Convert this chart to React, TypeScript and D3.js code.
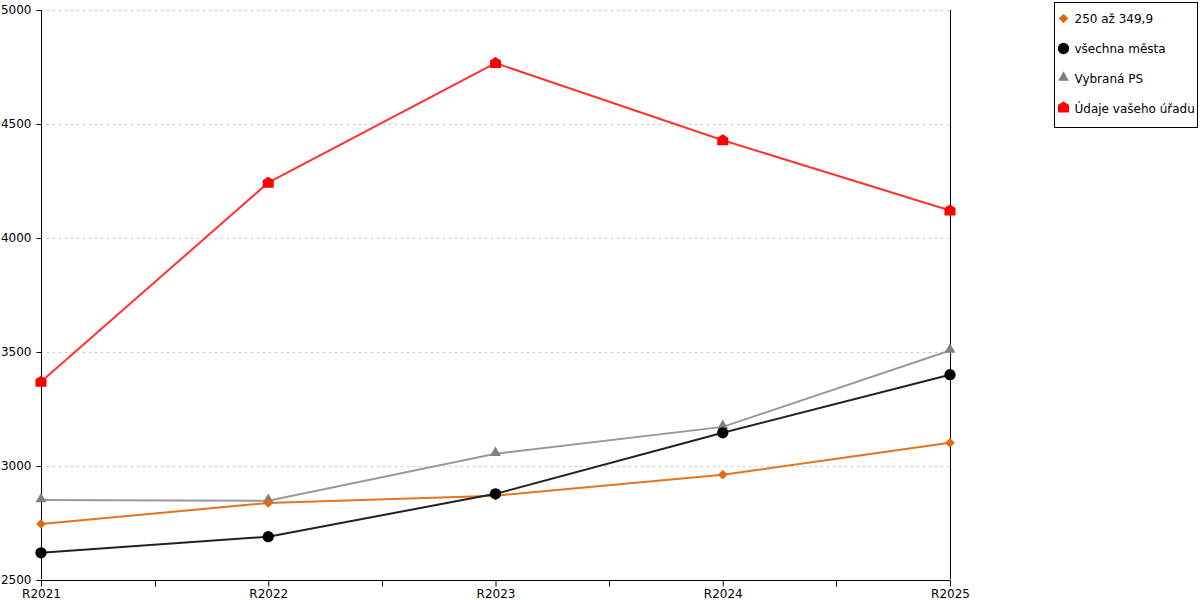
import React, { useRef, useEffect } from "react";
import * as d3 from "d3";

const categories = ["R2021", "R2022", "R2023", "R2024", "R2025"];
const yTicks = [2500, 3000, 3500, 4000, 4500, 5000];

const seriesNames = ["250 až 349,9", "všechna města", "Vybraná PS", "Údaje vašeho úřadu"];
const orangeValues = [2744, 2836, 2868, 2960, 3100];
const blackValues = [2617, 2688, 2876, 3144, 3399];
const grayValues = [2849, 2846, 3052, 3170, 3505];
const redValues = [3368, 4242, 4767, 4428, 4120];

const FONT = "DejaVu Sans, sans-serif";

const App = () => {
  const ref = useRef<SVGSVGElement | null>(null);

  useEffect(() => {
    if (!ref.current) return;
    const svg = d3.select(ref.current);
    svg.selectAll("*").remove();

    const margin = { top: 10, left: 41 };
    const width = 909;
    const height = 569.5;

    const x = d3.scalePoint().domain(categories).range([0, width]);
    const y = d3.scaleLinear().domain([2500, 5000]).range([height, 0]);

    const chart = svg
      .append("g")
      .attr("transform", `translate(${margin.left},${margin.top})`);

    // grid lines
    chart
      .append("g")
      .selectAll("line")
      .data(yTicks.slice(1))
      .enter()
      .append("line")
      .attr("x1", 0)
      .attr("x2", width)
      .attr("y1", (d) => Math.round(y(d)) + 0.5)
      .attr("y2", (d) => Math.round(y(d)) + 0.5)
      .attr("stroke", "#c4c4c4")
      .attr("stroke-dasharray", "2,4");

    // right border line
    chart
      .append("line")
      .attr("x1", width + 0.5)
      .attr("x2", width + 0.5)
      .attr("y1", 0)
      .attr("y2", height)
      .attr("stroke", "#000");

    // Y axis
    chart
      .append("g")
      .attr("transform", "translate(0.5,0)")
      .call(d3.axisLeft(y).tickValues(yTicks).tickSize(5).tickPadding(5).tickFormat((d) => String(d)))
      .call((g) => g.select(".domain").attr("d", `M0,0V${height}`))
      .call((g) => g.selectAll(".tick").attr("transform", (d: any) => `translate(0,${Math.round(y(d)) + 0.5})`))
      .selectAll("text")
      .style("font-size", "12px")
      .style("font-family", FONT)
      .style("fill", "#000");

    // X axis
    const xAxis = chart
      .append("g")
      .attr("transform", `translate(0,${Math.round(height) + 0.5})`);
    xAxis
      .call(d3.axisBottom(x).tickSize(6).tickPadding(3))
      .call((g) => g.select(".domain").attr("d", `M0,0H${width}`))
      .selectAll("text")
      .style("font-size", "12px")
      .style("font-family", FONT)
      .style("fill", "#000");
    // minor ticks between categories
    const step = x.step();
    xAxis
      .selectAll(".minor")
      .data(categories.slice(1))
      .enter()
      .append("line")
      .attr("class", "minor")
      .attr("x1", (d) => Math.round((x(d) || 0) - step / 2) + 0.5)
      .attr("x2", (d) => Math.round((x(d) || 0) - step / 2) + 0.5)
      .attr("y1", 0)
      .attr("y2", 6)
      .attr("stroke", "#000");

    const line = d3
      .line<number>()
      .x((_, i) => x(categories[i]) || 0)
      .y((d) => y(d));

    const diamond = d3.symbol().type(d3.symbolDiamond2).size(60);
    const circle = d3.symbol().type(d3.symbolCircle).size(100);
    const triangle = d3.symbol().type(d3.symbolTriangle2).size(85);
    const house = "M-5.5,-2.5L0,-6L5.5,-2.5L5.5,5L-5.5,5Z";

    const series = [
      { values: grayValues, line: "#999999", marker: "#808080", path: triangle() as string, dy: -1 },
      { values: orangeValues, line: "#e37420", marker: "#e06a10", path: diamond() as string, dy: 0 },
      { values: blackValues, line: "#222222", marker: "#000000", path: circle() as string, dy: 0 },
      { values: redValues, line: "#ff3333", marker: "#ff0000", path: house, dy: 0 },
    ];

    series.forEach((s) => {
      chart
        .append("path")
        .datum(s.values)
        .attr("fill", "none")
        .attr("stroke", s.line)
        .attr("stroke-width", 2)
        .attr("d", line);
    });
    series.forEach((s) => {
      chart
        .append("g")
        .selectAll("path")
        .data(s.values)
        .enter()
        .append("path")
        .attr("d", s.path)
        .attr("fill", s.marker)
        .attr("transform", (d, i) => `translate(${x(categories[i])},${y(d) + s.dy})`);
    });

    // legend
    const legend = svg.append("g").attr("transform", "translate(1054.5,2.5)");
    legend
      .append("rect")
      .attr("width", 143)
      .attr("height", 125)
      .attr("fill", "#fff")
      .attr("stroke", "#000");
    const legendShapes = [
      { path: diamond() as string, color: "#e06a10", dy: 0 },
      { path: circle() as string, color: "#000000", dy: 0 },
      { path: triangle() as string, color: "#808080", dy: -1 },
      { path: house, color: "#ff0000", dy: -1 },
    ];
    seriesNames.forEach((name, i) => {
      const cy = 16 + i * 30;
      legend
        .append("path")
        .attr("d", legendShapes[i].path)
        .attr("fill", legendShapes[i].color)
        .attr("transform", `translate(9,${cy + legendShapes[i].dy})`);
      legend
        .append("text")
        .attr("x", 20)
        .attr("y", cy + 4)
        .style("font-size", "12px")
        .style("font-family", FONT)
        .text(name);
    });
  }, []);

  return (
    <svg
      ref={ref}
      width={1200}
      height={600}
      style={{ position: "absolute", left: 0, top: 0, background: "#fff" }}
    />
  );
};

export default App;
